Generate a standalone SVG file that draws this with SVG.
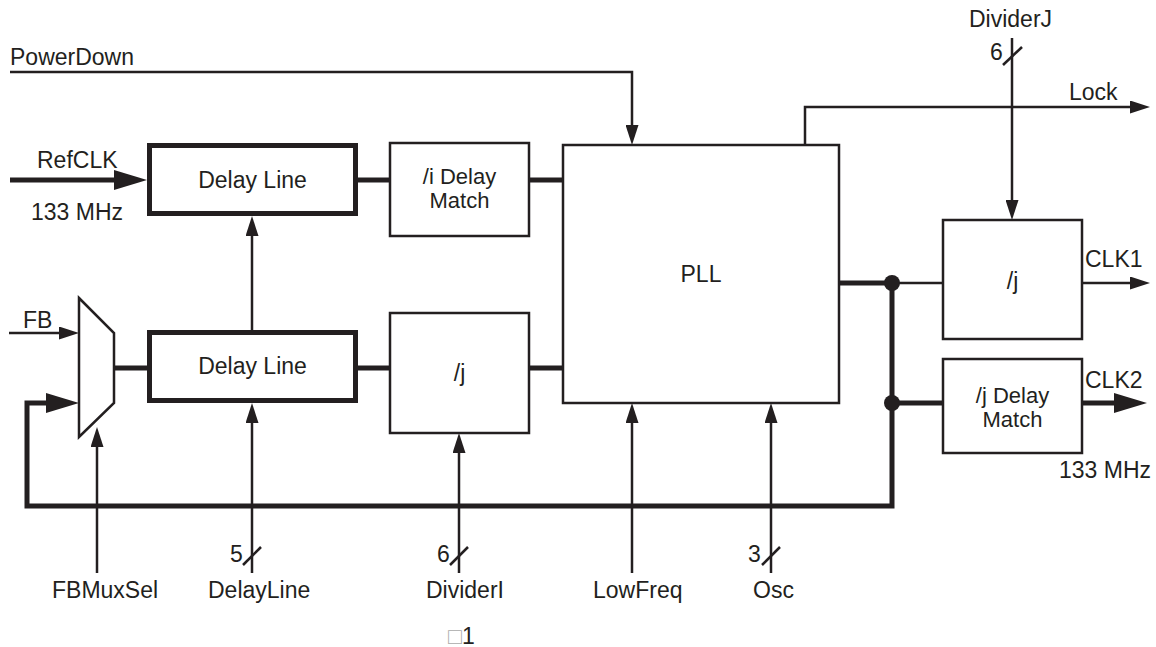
<svg xmlns="http://www.w3.org/2000/svg" width="1156" height="647" viewBox="0 0 1156 647">
<style>
  .t{font-family:"Liberation Sans",Arial,Helvetica,sans-serif;font-size:23px;fill:#231f20}
  .s{font-size:22px}
  .c{text-anchor:middle}
  .e{text-anchor:end}
  .thin{fill:none;stroke:#231f20;stroke-width:2.5}
  .thick{fill:none;stroke:#231f20;stroke-width:5}
  .box{fill:#fff;stroke:#231f20;stroke-width:2.5}
  .tbox{fill:#fff;stroke:#231f20;stroke-width:5}
  .dot{fill:#231f20}
</style>
<defs>
  <marker id="ah" markerUnits="userSpaceOnUse" markerWidth="20" markerHeight="13" refX="2" refY="6.5" orient="auto">
    <path d="M0,0 L20,6.5 L0,13 z" fill="#231f20"/>
  </marker>
  <marker id="ahT" markerUnits="userSpaceOnUse" markerWidth="33" markerHeight="20" refX="2" refY="10" orient="auto">
    <path d="M0,0 L33,10 L0,20 z" fill="#231f20"/>
  </marker>
</defs>
<rect width="1156" height="647" fill="#fff"/>

<g id="connectors">
  <path class="thin" d="M10,72 H632 V127" marker-end="url(#ah)"/>
  <path class="thick" d="M10,180 H116" marker-end="url(#ahT)"/>
  <path class="thick" d="M358,180 H390"/>
  <path class="thick" d="M529,180 H563"/>
  <path class="thin" d="M9,333 H61" marker-end="url(#ah)"/>
  <path class="thick" d="M114,368 H147"/>
  <path class="thick" d="M358,368 H390"/>
  <path class="thick" d="M529,368 H563"/>
  <path class="thin" d="M252,330 V234" marker-end="url(#ah)"/>
  <path class="thin" d="M252,573 V421" marker-end="url(#ah)"/>
  <path class="thin" d="M243,565 L261,547"/>
  <path class="thin" d="M97,573 V445" marker-end="url(#ah)"/>
  <path class="thin" d="M459,573 V451" marker-end="url(#ah)"/>
  <path class="thin" d="M450,565 L468,547"/>
  <path class="thin" d="M632,573 V421" marker-end="url(#ah)"/>
  <path class="thin" d="M771,573 V421" marker-end="url(#ah)"/>
  <path class="thin" d="M762,565 L780,547"/>
  <path class="thick" d="M839,283 H892"/>
  <path class="thin" d="M892,283 H943"/>
  <path class="thick" d="M892,283 V506 H27 V403 H48" marker-end="url(#ahT)"/>
  <path class="thick" d="M892,403 H943"/>
  <path class="thin" d="M1082,283 H1132" marker-end="url(#ah)"/>
  <path class="thick" d="M1082,403 H1116" marker-end="url(#ahT)"/>
  <path class="thin" d="M805,145 V107 H1132" marker-end="url(#ah)"/>
  <path class="thin" d="M1012,38 V202" marker-end="url(#ah)"/>
  <path class="thin" d="M1003,65 L1022,47"/>
  <circle class="dot" cx="892" cy="283" r="8"/>
  <circle class="dot" cx="892" cy="403" r="8"/>
</g>

<g id="delayline1">
  <rect class="tbox" x="149.5" y="145.5" width="206" height="68"/>
  <text class="t c" x="252.5" y="188">Delay Line</text>
</g>
<g id="delayline2">
  <rect class="tbox" x="149.5" y="332.5" width="206" height="68"/>
  <text class="t c" x="252.5" y="374">Delay Line</text>
</g>
<g id="mux">
  <polygon class="box" points="79,298 114,333 114,403 79,437"/>
</g>
<g id="idelaymatch">
  <rect class="box" x="390" y="143" width="139" height="93"/>
  <text class="t s c" x="459.5" y="184">/i Delay</text>
  <text class="t s c" x="459.5" y="208">Match</text>
</g>
<g id="jdiv1">
  <rect class="box" x="390" y="313" width="139" height="120"/>
  <text class="t c" x="459.5" y="381">/j</text>
</g>
<g id="pll">
  <rect class="box" x="563" y="145" width="276" height="258"/>
  <text class="t c" x="701" y="282">PLL</text>
</g>
<g id="jdiv2">
  <rect class="box" x="943" y="220" width="139" height="119"/>
  <text class="t c" x="1012.5" y="289">/j</text>
</g>
<g id="jdelaymatch">
  <rect class="box" x="943" y="359" width="139" height="94"/>
  <text class="t s c" x="1012.5" y="403">/j Delay</text>
  <text class="t s c" x="1012.5" y="427">Match</text>
</g>

<g id="labels">
  <text class="t" x="10" y="65">PowerDown</text>
  <text class="t" x="37" y="168">RefCLK</text>
  <text class="t" x="31" y="220">133 MHz</text>
  <text class="t" x="23" y="328">FB</text>
  <text class="t" x="969" y="27">DividerJ</text>
  <text class="t" x="990" y="60">6</text>
  <text class="t" x="1069" y="100">Lock</text>
  <text class="t" x="1085" y="267">CLK1</text>
  <text class="t" x="1085" y="388">CLK2</text>
  <text class="t e" x="1151" y="478">133 MHz</text>
  <text class="t" x="230" y="562">5</text>
  <text class="t" x="437" y="562">6</text>
  <text class="t" x="748" y="562">3</text>
  <text class="t" x="52" y="598">FBMuxSel</text>
  <text class="t" x="208" y="598">DelayLine</text>
  <text class="t" x="426" y="598">DividerI</text>
  <text class="t" x="593" y="598">LowFreq</text>
  <text class="t" x="753" y="598">Osc</text>
  <text class="t" x="448" y="644"><tspan fill="#aaaaaa">□</tspan>1</text>
</g>
</svg>
